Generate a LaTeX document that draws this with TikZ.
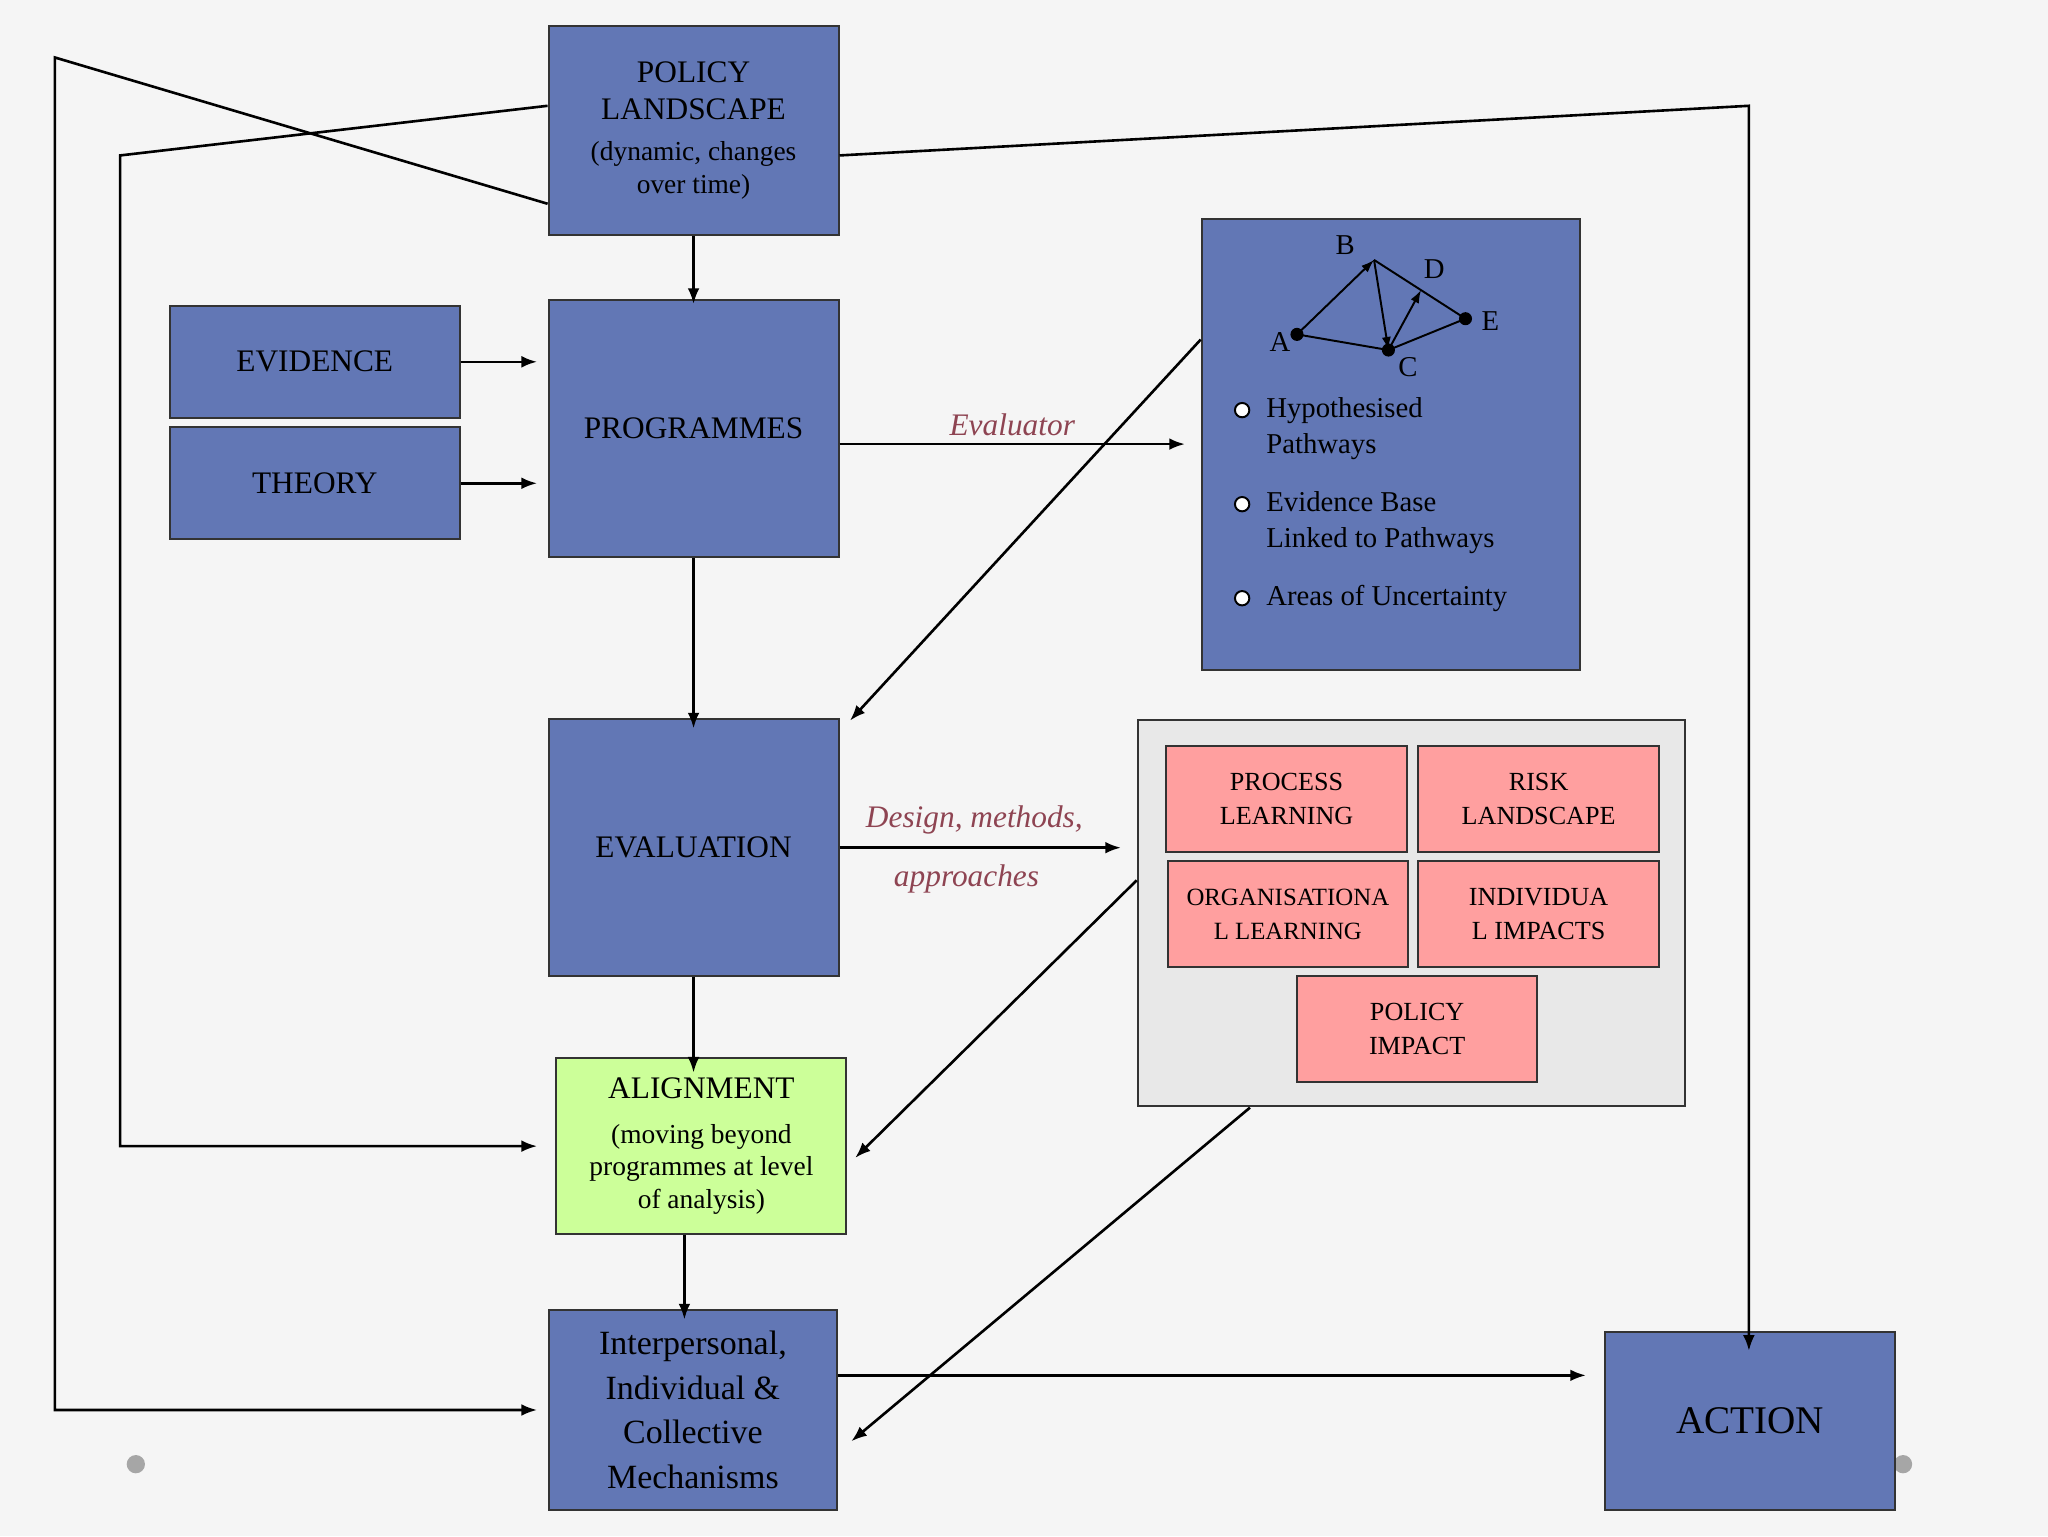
\documentclass[tikz,border=0pt]{standalone}
\usepackage{fontspec}
\setmainfont{Liberation Serif}
\usetikzlibrary{arrows.meta}
\definecolor{bl}{HTML}{6277B5}
\definecolor{pk}{HTML}{FF9F9F}
\definecolor{gr}{HTML}{CCFF99}
\definecolor{gy}{HTML}{E8E8E8}
\definecolor{lab}{HTML}{8E4452}
\begin{document}
\begin{tikzpicture}[x=1pt,y=-1pt,
 box/.style={draw=black!80,line width=1.5pt,fill=bl,align=center,inner sep=2pt,font=\fontsize{24}{28}\selectfont},
 pbox/.style={draw=black!80,line width=1.5pt,fill=pk,align=center,inner sep=1pt,minimum width=184,minimum height=81,font=\fontsize{20}{26}\selectfont},
 con/.style={line width=2pt,-{Latex[length=12,width=9]}},
 ln/.style={line width=2pt},
 lb/.style={text=lab,font=\itshape\fontsize{24}{28}\selectfont}]
\fill[gray!8] (0,0) rectangle (1568,1176);
\useasboundingbox (0,0) rectangle (1568,1176);
\fill[gray!70] (104,1121) circle (7) (1457,1121) circle (7);
% boxes
\node[box,minimum width=222,minimum height=160] (pol) at (531,100) {POLICY\\LANDSCAPE\\[4pt]{\fontsize{21}{26}\selectfont(dynamic, changes}\\[-3pt]{\fontsize{21}{26}\selectfont over time)}};
\node[box,minimum width=222,minimum height=86] (evi) at (241,277) {EVIDENCE};
\node[box,minimum width=222,minimum height=86] (the) at (241,370) {THEORY};
\node[box,minimum width=222,minimum height=197] (prog) at (531,328) {PROGRAMMES};
\node[box,minimum width=290,minimum height=345] (path) at (1065,340.5) {};
\node[box,minimum width=222,minimum height=197] (eval) at (531,649) {EVALUATION};
\node[draw=black!80,line width=1.5pt,fill=gy,minimum width=419,minimum height=296] (grey) at (1080.5,699) {};
\node[pbox] (pl) at (985,612) {PROCESS\\LEARNING};
\node[pbox] (rl) at (1178,612) {RISK\\LANDSCAPE};
\node[pbox,font=\fontsize{19}{26}\selectfont] (ol) at (986,700) {ORGANISATIONA\\L LEARNING};
\node[pbox] (ii) at (1178,700) {INDIVIDUA\\L IMPACTS};
\node[pbox] (pi) at (1085,788) {POLICY\\IMPACT};
\node[box,fill=gr,minimum width=222,minimum height=135] (ali) at (537,877.5) {ALIGNMENT\\[6pt]{\fontsize{21}{26}\selectfont(moving beyond}\\[-3pt]{\fontsize{21}{26}\selectfont programmes at level}\\[-3pt]{\fontsize{21}{26}\selectfont of analysis)}};
\node[box,minimum width=221,minimum height=153,font=\fontsize{26}{34}\selectfont] (int) at (530.5,1079.5) {Interpersonal,\\Individual \&\\Collective\\Mechanisms};
\node[box,minimum width=222,minimum height=136,font=\fontsize{30}{34}\selectfont] (act) at (1340,1088) {ACTION};
% graph
\coordinate (A) at (993,256); \coordinate (B) at (1052,199); \coordinate (C) at (1063,268);
\coordinate (D) at (1088,222); \coordinate (E) at (1122,244);
\draw[line width=1.5pt] (A)--(C) (B)--(E) (C)--(E);
\draw[line width=1.5pt,-{Latex[length=10,width=7]}] (A)--(B);
\draw[line width=1.5pt,-{Latex[length=10,width=7]}] (B)--(C);
\draw[line width=1.5pt,-{Latex[length=10,width=7]}] (C)--(D);
\fill (A) circle (5) (C) circle (5) (E) circle (5);
\begin{scope}[font=\fontsize{22}{26}\selectfont]
\node at (1030,188) {B}; \node at (1098,206) {D}; \node at (980,262) {A}; \node at (1078,281) {C}; \node at (1141,246) {E};
\end{scope}
\foreach \y in {314,386,458} \draw[fill=white,line width=1.5pt] (951,\y) circle (5.5);
\begin{scope}[font=\fontsize{22}{28}\selectfont,anchor=west,align=left]
\node[anchor=west] at (966,328) {Hypothesised\\Pathways};
\node[anchor=west] at (966,400) {Evidence Base\\Linked to Pathways};
\node[anchor=west] at (966,458) {Areas of Uncertainty};
\end{scope}
% connectors
\coordinate (l1) at (42,44); \coordinate (l2) at (92,119); \coordinate (r1) at (1339,81);
\draw[con] ([yshift=-56]pol.west) -- (l1) -- (l1 |- int.west) -- ([xshift=-8]int.west);
\draw[con] ([yshift=19]pol.west) -- (l2) -- (l2 |- ali.west) -- ([xshift=-14]ali.west);
\draw[con] ([yshift=-19]pol.east) -- (r1) -- ([yshift=-15]act.north -| r1);
\draw[con] (pol.south) -- ([yshift=-4]prog.north);
\draw[con] (evi.east) -- ([xshift=-8]evi.east -| prog.west);
\draw[con] (the.east) -- ([xshift=-8]the.east -| prog.west);
\draw[con] ([yshift=-12]prog.east) -- node[lb,above=2pt]{Evaluator} ([xshift=-12,yshift=-12]prog.east -| path.west);
\draw[con] (prog.south) -- ([yshift=-8]eval.north);
\draw[con] ([yshift=80.5]path.west) -- ([xshift=8,yshift=-2]eval.north east);
\draw[con] (eval.east) -- ([xshift=-12]eval.east -| grey.west);
\node[lb] at (746,628) {Design, methods,};
\node[lb] at (740,673) {approaches};
\draw[con] (eval.south) -- ([yshift=-12]ali.north -| eval.south);
\draw[con] ([yshift=25]grey.west) -- ([xshift=6,yshift=-9]ali.east);
\draw[con] (957,848) -- ([xshift=10,yshift=-24]int.east);
\draw[con] (ali.south -| 524,0) -- ([yshift=-8]int.north -| 524,0);
\draw[con] ([yshift=26.5]int.east) -- ([xshift=-14,yshift=26.5]int.east -| act.west);
\end{tikzpicture}
\end{document}
